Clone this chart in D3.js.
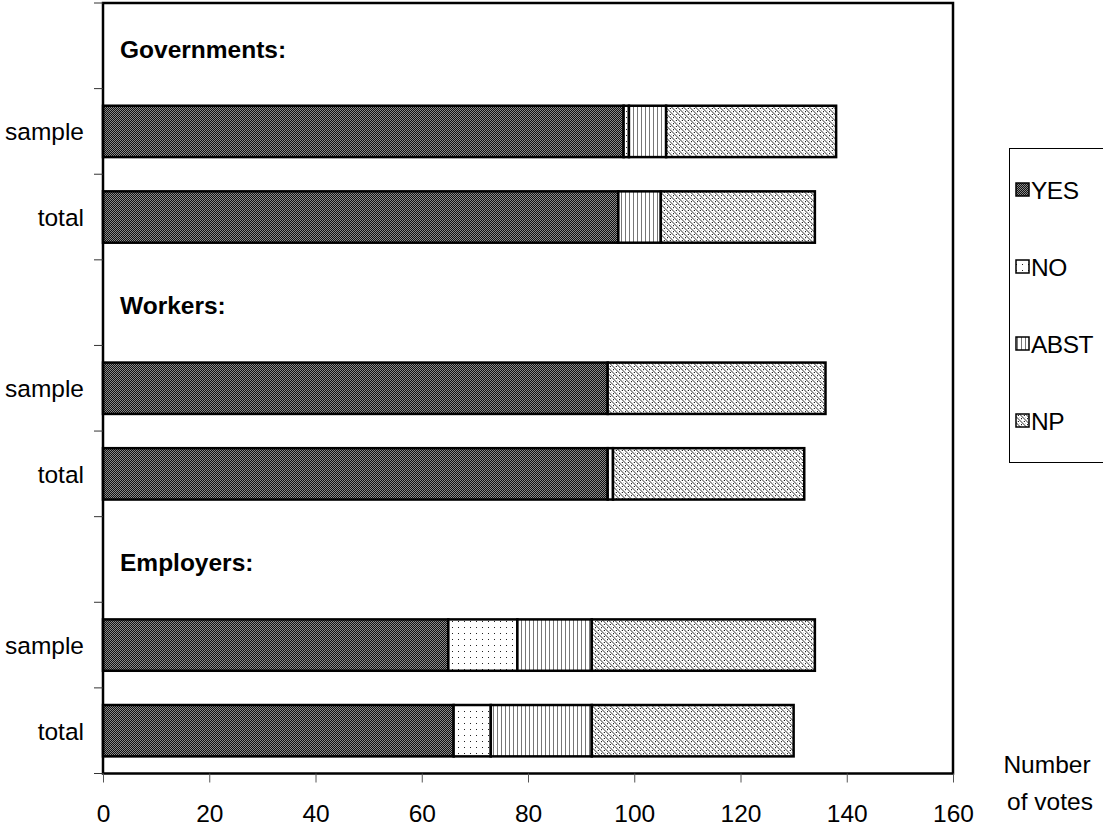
<!DOCTYPE html>
<html>
<head>
<meta charset="utf-8">
<script src="https://cdn.jsdelivr.net/npm/d3@7"></script>
<style>
  body { margin: 0; background: #fff; }
  svg { display: block; font-family: 'Liberation Sans', Arial, sans-serif; }
</style>
</head>
<body>
<div id="chart"></div>
<script>
// rows from top to bottom; header rows carry no bar
const rows = ['gov', 'govSample', 'govTotal', 'wrk', 'wrkSample', 'wrkTotal', 'emp', 'empSample', 'empTotal'];
const rowLabels = ['', 'sample', 'total', '', 'sample', 'total', '', 'sample', 'total'];
const groupTitles = ['Governments:', '', '', 'Workers:', '', '', 'Employers:', '', ''];

const series = ['YES', 'NO', 'ABST', 'NP'];
const yesVotes  = [null, 98, 97, null, 95, 95, null, 65, 66];
const noVotes   = [null, 1, 0, null, 0, 1, null, 13, 7];
const abstVotes = [null, 7, 8, null, 0, 0, null, 14, 19];
const npVotes   = [null, 32, 29, null, 41, 36, null, 42, 38];

const xTicks = [0, 20, 40, 60, 80, 100, 120, 140, 160];

const width = 1103;
const height = 832;

const svg = d3
  .select('#chart')
  .append('svg')
  .attr('width', width)
  .attr('height', height);

// fill patterns, black and white like the original
const defs = svg.append('defs');
const patternIds = { YES: 'pYes', NO: 'pNo', ABST: 'pAbst', NP: 'pNp' };

function pixelPattern(id, size, bg, pixels) {
  const p = defs
    .append('pattern')
    .attr('id', id)
    .attr('patternUnits', 'userSpaceOnUse')
    .attr('width', size)
    .attr('height', size);
  p.append('rect').attr('width', size).attr('height', size).attr('fill', bg);
  p.selectAll('rect.px')
    .data(pixels)
    .join('rect')
    .attr('class', 'px')
    .attr('x', (d) => d[0])
    .attr('y', (d) => d[1])
    .attr('width', 1)
    .attr('height', 1)
    .attr('fill', (d) => d[2])
    .attr('shape-rendering', 'crispEdges');
}

pixelPattern('pYes', 2, '#111', [[0, 0, '#8a8a8a'], [1, 1, '#8a8a8a']]);
pixelPattern('pNo', 6, '#fff', [[2, 3, '#222']]);
pixelPattern('pAbst', 4, '#fff', [[1, 0, '#777'], [1, 1, '#777'], [1, 2, '#777'], [1, 3, '#777']]);

const npPixels = [];
for (let i = 0; i < 6; i++) {
  npPixels.push([i, i, '#8c8c8c']);
  npPixels.push([(i + 1) % 6, i, '#a0a0a0']);
  npPixels.push([(i + 3) % 6, i, i % 2 ? '#fff' : '#d0d0d0']);
}
npPixels.push([4, 0, '#222']);
npPixels.push([1, 3, '#222']);
pixelPattern('pNp', 6, '#fff', npPixels);

// scales
const x = d3.scaleLinear().domain([0, 160]).range([103, 953]);
const y = d3
  .scaleBand()
  .domain(rows)
  .range([3, 773.5])
  .paddingInner(0.4)
  .paddingOuter(0.2);

// stacked segments
const table = rows.map((r, i) => ({
  row: r,
  YES: yesVotes[i],
  NO: noVotes[i],
  ABST: abstVotes[i],
  NP: npVotes[i],
}));
const stacked = d3.stack().keys(series)(table.filter((d) => d.YES !== null));

const bars = svg.append('g').attr('class', 'bars');
bars
  .selectAll('g')
  .data(stacked)
  .join('g')
  .attr('fill', (s) => `url(#${patternIds[s.key]})`)
  .selectAll('rect')
  .data((s) => s.filter((d) => d[1] - d[0] > 0))
  .join('rect')
  .attr('x', (d) => x(d[0]))
  .attr('y', (d) => y(d.data.row))
  .attr('width', (d) => x(d[1]) - x(d[0]))
  .attr('height', y.bandwidth())
  .attr('stroke', '#000')
  .attr('stroke-width', 2.5);

// plot frame
svg
  .append('rect')
  .attr('x', x(0))
  .attr('y', y.range()[0])
  .attr('width', x(160) - x(0))
  .attr('height', y.range()[1] - y.range()[0])
  .attr('fill', 'none')
  .attr('stroke', '#000')
  .attr('stroke-width', 2.5);

// category ticks on the left edge at band boundaries
const boundaries = d3.range(rows.length + 1).map((i) => y.range()[0] + i * y.step());
svg
  .append('g')
  .selectAll('line')
  .data(boundaries)
  .join('line')
  .attr('x1', x(0) - 9)
  .attr('x2', x(0))
  .attr('y1', (d) => d)
  .attr('y2', (d) => d)
  .attr('stroke', '#333')
  .attr('stroke-width', 1);

// row labels
svg
  .append('g')
  .selectAll('text')
  .data(rows.filter((r, i) => rowLabels[i]))
  .join('text')
  .attr('x', 84)
  .attr('y', (r) => y(r) + y.bandwidth() / 2)
  .attr('dy', '0.36em')
  .attr('text-anchor', 'end')
  .attr('font-size', 24.5)
  .attr('fill', '#000')
  .text((r) => rowLabels[rows.indexOf(r)]);

// group titles
svg
  .append('g')
  .selectAll('text')
  .data(rows.filter((r, i) => groupTitles[i]))
  .join('text')
  .attr('x', 120)
  .attr('y', (r) => y(r) + y.bandwidth() / 2 + 3)
  .attr('dy', '0.36em')
  .attr('font-size', 24.5)
  .attr('font-weight', 'bold')
  .attr('fill', '#000')
  .text((r) => groupTitles[rows.indexOf(r)]);

// x axis
const xAxis = svg
  .append('g')
  .attr('transform', `translate(0,${y.range()[1]})`)
  .call(
    d3.axisBottom(x).tickValues(xTicks).tickSize(9).tickPadding(22).tickFormat(d3.format('d'))
  );
xAxis.select('.domain').remove();
xAxis.selectAll('.tick line').attr('stroke', '#555');
xAxis
  .selectAll('.tick text')
  .attr('font-size', 24.5)
  .attr('font-family', "'Liberation Sans', Arial, sans-serif")
  .attr('fill', '#000');

// axis title
const axisTitle = svg
  .append('text')
  .attr('text-anchor', 'middle')
  .attr('font-size', 24.5)
  .attr('fill', '#000');
axisTitle.append('tspan').attr('x', 1047).attr('y', 773).text('Number');
axisTitle.append('tspan').attr('x', 1050).attr('y', 810).text('of votes');

// legend
const legend = svg.append('g').attr('class', 'legend');
legend
  .append('rect')
  .attr('x', 1009.5)
  .attr('y', 148.5)
  .attr('width', 120)
  .attr('height', 314)
  .attr('fill', '#fff')
  .attr('stroke', '#000')
  .attr('stroke-width', 1);

const legendY = d3.scalePoint().domain(series).range([190, 421]);
const item = legend
  .selectAll('g.item')
  .data(series)
  .join('g')
  .attr('class', 'item')
  .attr('transform', (d) => `translate(0,${legendY(d)})`);
item
  .append('rect')
  .attr('x', 1016)
  .attr('y', -7)
  .attr('width', 13)
  .attr('height', 13)
  .attr('fill', (d) => `url(#${patternIds[d]})`)
  .attr('stroke', '#000')
  .attr('stroke-width', 1.5);
item
  .append('text')
  .attr('x', 1031)
  .attr('dy', '0.36em')
  .attr('font-size', 24.5)
  .attr('fill', '#000')
  .style('letter-spacing', '-0.5px')
  .text((d) => d);
</script>
</body>
</html>
